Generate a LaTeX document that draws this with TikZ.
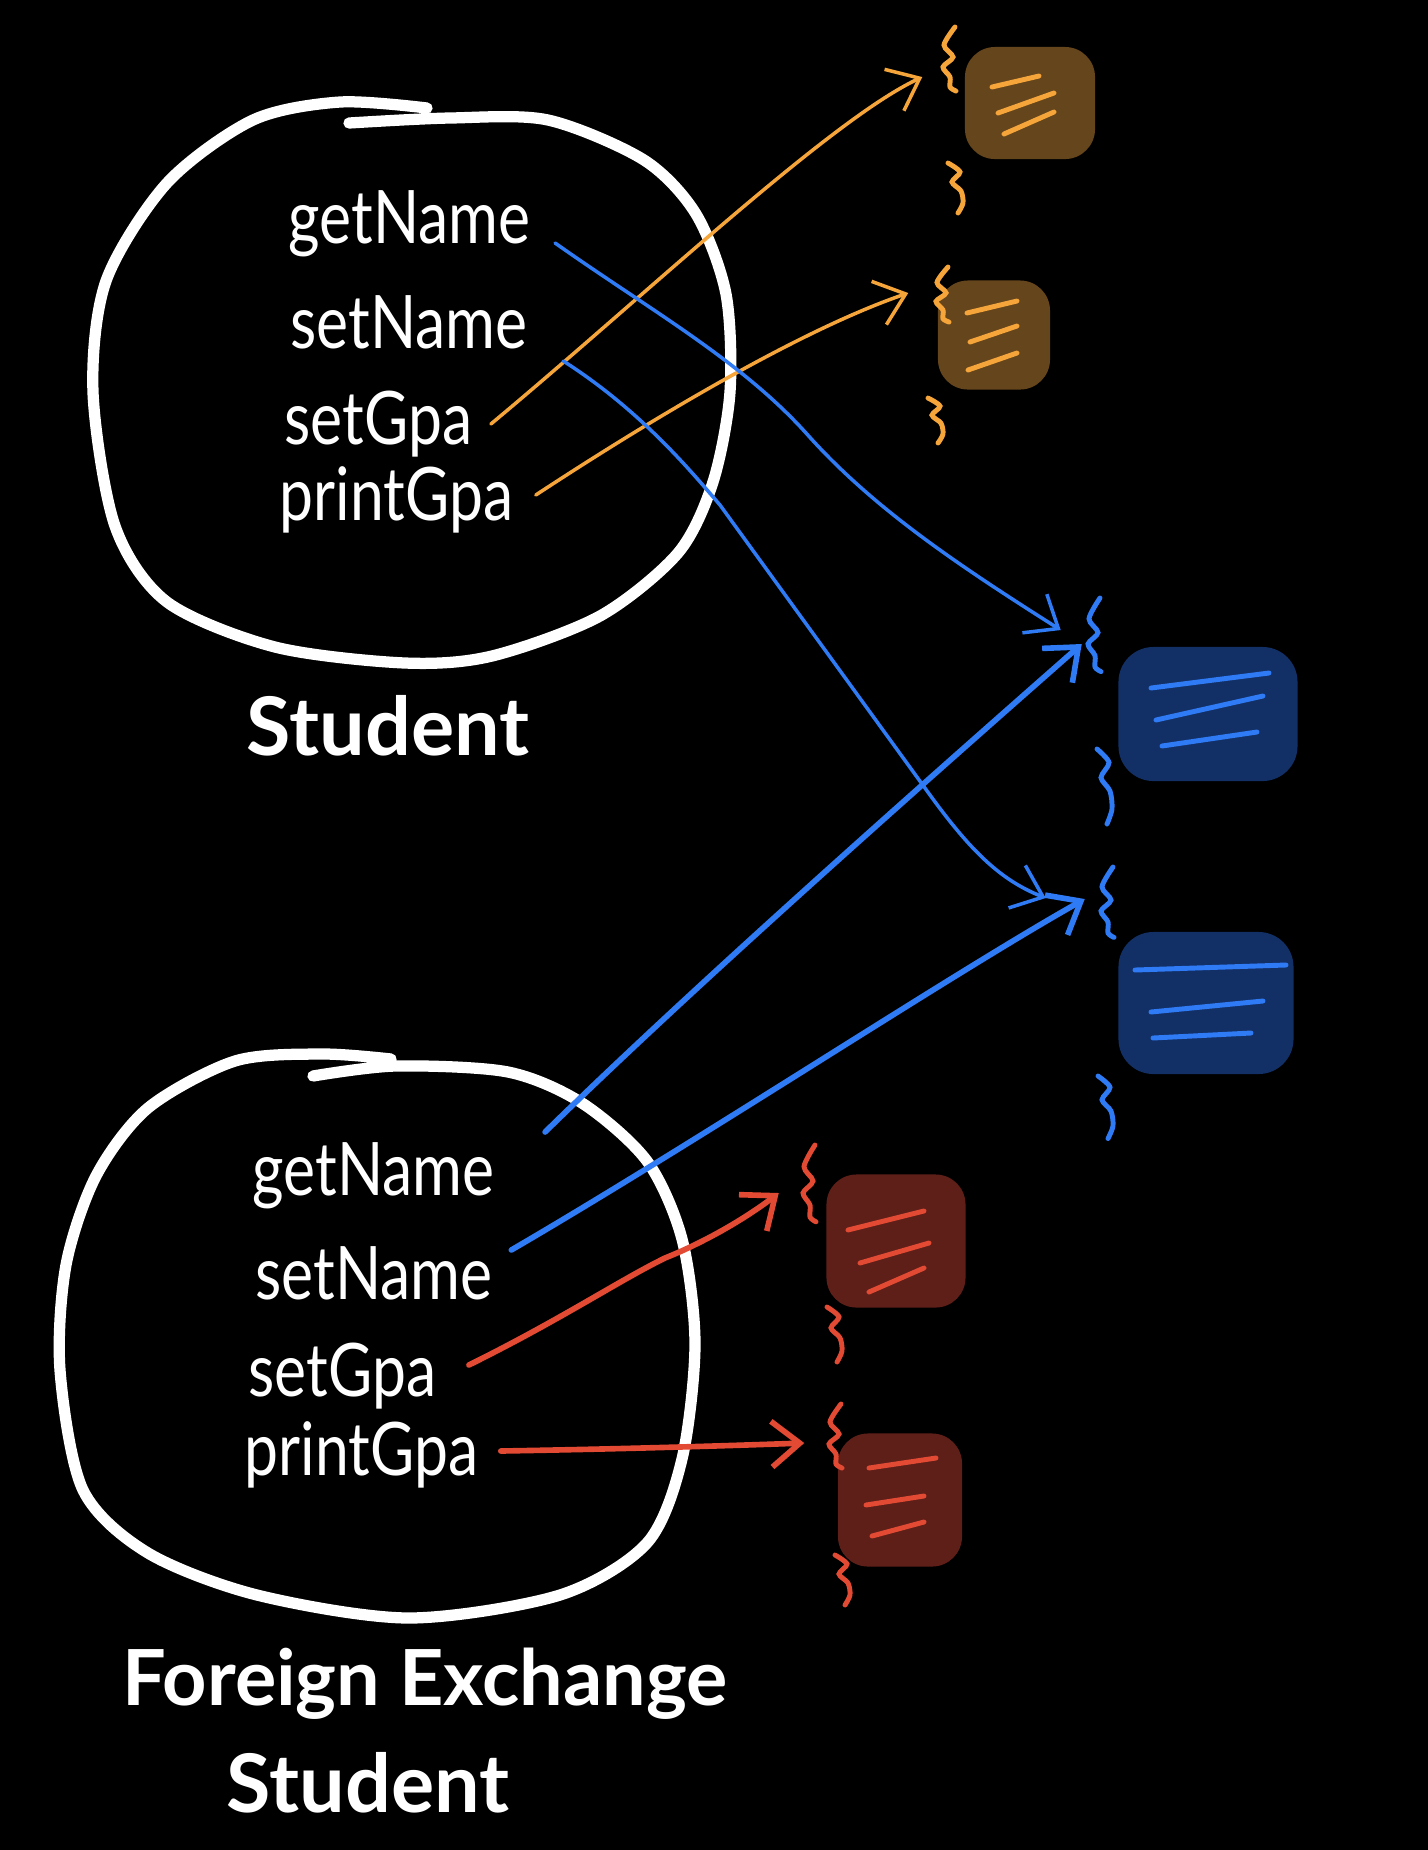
\documentclass[tikz,border=0pt]{standalone}
\usepackage{fontspec}
\setmainfont{Lato}
\newfontfamily\maofont[FakeStretch=0.82]{Lato}
\usepackage{tikz}
\usetikzlibrary{arrows.meta,calc}

\definecolor{laranja}{HTML}{F5A53A}
\definecolor{marrom}{HTML}{65451B}
\definecolor{azul}{HTML}{2F7BF6}
\definecolor{marinho}{HTML}{123066}
\definecolor{vermelho}{HTML}{E34A33}
\definecolor{vinho}{HTML}{5E1F18}

\tikzset{
  chavetopo/.pic={\draw plot[smooth] coordinates {(5,0) (-6,18) (3,30) (-7,40) (0,50) (0,60) (6,64)};},
  chavebaixo/.pic={\draw plot[smooth] coordinates {(0,0) (12,9) (4,19) (13,28) (15,40) (10,50)};}
}

\begin{document}
\begin{tikzpicture}[x=0.01cm, y=-0.01cm, > = {Straight Barb[length=8pt,width=13pt]}, line cap=round]
        \tikzstyle{metodo}=[anchor=base west, inner sep=0pt, text=white, font=\maofont\fontsize{21}{25}\selectfont]
        \tikzstyle{classe}=[inner sep=0pt, text=white, font=\bfseries\fontsize{23}{27}\selectfont]
        \tikzstyle{bolha}=[white, line width=3.2pt]
        \tikzstyle{objlar}=[fill=marrom, rounded corners=0.3cm, inner sep=0pt]
        \tikzstyle{objazul}=[fill=marinho, rounded corners=0.35cm, inner sep=0pt]
        \tikzstyle{objverm}=[fill=vinho, rounded corners=0.3cm, inner sep=0pt]
        \tikzstyle{chave}=[line width=1.4pt]
        \tikzstyle{setalar}=[->, laranja, line width=1pt]
        \tikzstyle{setaazul}=[->, azul, line width=1pt]
        \tikzstyle{setaazulg}=[->, azul, line width=1.6pt]
        \tikzstyle{setaverm}=[->, vermelho, line width=1.6pt]

            \useasboundingbox (0,0) rectangle (1428,1850);
            \fill[black] (0,0) rectangle (1428,1850);

            % Classes
            \draw[bolha] plot[smooth] coordinates {(349,123) (450,118) (548,120) (644,160) (696,214) (726,294) (730,392) (713,482) (678,553) (600,616) (492,656) (405,663) (275,647) (167,602) (115,526) (93,392) (106,281) (167,183) (253,120) (340,102) (427,108)};
            \draw[bolha] plot[smooth] coordinates {(313,1076) (396,1066) (508,1072) (582,1103) (647,1161) (682,1239) (695,1344) (682,1459) (647,1543) (560,1595) (409,1618) (257,1595) (148,1553) (83,1490) (60,1370) (66,1265) (96,1176) (148,1108) (235,1061) (322,1054) (391,1059)};

            \node[classe] (st) at (388,726) {Student};
            \node[classe, anchor=base, font=\bfseries\fontsize{22}{26}\selectfont] (fe) at (425,1705) {Foreign Exchange};
            \node[classe, anchor=base] (fes) at (368,1812) {Student};

            % Metodos
            \node[metodo] (sgn) at (288,243) {getName};
            \node[metodo] (ssn) at (290,348) {setName};
            \node[metodo] (ssg) at (284,444) {setGpa};
            \node[metodo] (spg) at (279,520) {printGpa};

            \node[metodo] (fgn) at (252,1195) {getName};
            \node[metodo] (fsn) at (255,1299) {setName};
            \node[metodo] (fsg) at (248,1396) {setGpa};
            \node[metodo] (fpg) at (244,1475) {printGpa};

            % Objetos
            \node[objlar, minimum width=1.30cm, minimum height=1.12cm] (ob1) at (1030,103) {};
            \node[objlar, minimum width=1.12cm, minimum height=1.09cm] (ob2) at (994,335) {};
            \node[objazul, minimum width=1.79cm, minimum height=1.34cm] (bb1) at (1208,714) {};
            \node[objazul, minimum width=1.75cm, minimum height=1.42cm] (bb2) at (1206,1003) {};
            \node[objverm, minimum width=1.39cm, minimum height=1.33cm] (rb1) at (896,1241) {};
            \node[objverm, minimum width=1.24cm, minimum height=1.33cm] (rb2) at (900,1500) {};

            \draw[chave, laranja] ($(ob1)+(-38,-16)$) -- ($(ob1)+(9,-27)$);
            \draw[chave, laranja] ($(ob1)+(-32,10)$) -- ($(ob1)+(24,-10)$);
            \draw[chave, laranja] ($(ob1)+(-26,31)$) -- ($(ob1)+(24,9)$);
            \draw[chave, laranja] ($(ob2)+(-27,-22)$) -- ($(ob2)+(23,-34)$);
            \draw[chave, laranja] ($(ob2)+(-24,7)$) -- ($(ob2)+(23,-9)$);
            \draw[chave, laranja] ($(ob2)+(-26,35)$) -- ($(ob2)+(23,18)$);
            \draw[chave, azul] ($(bb1)+(-57,-26)$) -- ($(bb1)+(61,-41)$);
            \draw[chave, azul] ($(bb1)+(-52,6)$) -- ($(bb1)+(55,-18)$);
            \draw[chave, azul] ($(bb1)+(-46,32)$) -- ($(bb1)+(49,18)$);
            \draw[chave, azul] ($(bb2)+(-71,-33)$) -- ($(bb2)+(80,-38)$);
            \draw[chave, azul] ($(bb2)+(-55,9)$) -- ($(bb2)+(57,-2)$);
            \draw[chave, azul] ($(bb2)+(-53,35)$) -- ($(bb2)+(45,30)$);
            \draw[chave, vermelho] ($(rb1)+(-48,-11)$) -- ($(rb1)+(28,-30)$);
            \draw[chave, vermelho] ($(rb1)+(-36,22)$) -- ($(rb1)+(33,2)$);
            \draw[chave, vermelho] ($(rb1)+(-27,51)$) -- ($(rb1)+(28,27)$);
            \draw[chave, vermelho] ($(rb2)+(-31,-32)$) -- ($(rb2)+(36,-42)$);
            \draw[chave, vermelho] ($(rb2)+(-34,5)$) -- ($(rb2)+(24,-4)$);
            \draw[chave, vermelho] ($(rb2)+(-28,36)$) -- ($(rb2)+(24,22)$);

            % Chaves
            \pic[chave, color=laranja] at (950,27) {chavetopo};
            \pic[chave, color=laranja] at (948,163) {chavebaixo};
            \pic[chave, color=laranja, yscale=0.86] at (943,267) {chavetopo};
            \pic[chave, color=laranja, yscale=0.9] at (928,398) {chavebaixo};
            \pic[chave, color=azul, yscale=1.15] at (1095,598) {chavetopo};
            \pic[chave, color=azul, yscale=1.5] at (1097,749) {chavebaixo};
            \pic[chave, color=azul, yscale=1.1] at (1108,867) {chavetopo};
            \pic[chave, color=azul, yscale=1.25] at (1098,1076) {chavebaixo};
            \pic[chave, color=vermelho, yscale=1.2] at (810,1145) {chavetopo};
            \pic[chave, color=vermelho, yscale=1.1] at (827,1307) {chavebaixo};
            \pic[chave, color=vermelho] at (836,1404) {chavetopo};
            \pic[chave, color=vermelho] at (835,1555) {chavebaixo};

            % Setas
            \draw[setalar] ($(ssg.base east)+(18,-20)$) .. controls (640,300) and (830,120) .. ($(ob1.west)+(-42,-26)$);
            \draw[setalar] ($(spg.base east)+(22,-25)$) .. controls (650,420) and (800,330) .. ($(ob2.west)+(-29,-42)$);
            \draw[setaazul] ($(sgn.base east)+(24,0)$) .. controls (650,310) and (740,360) .. (806,433) .. controls (870,505) and (950,560) .. ($(bb1.west)+(-57,-84)$);
            \draw[setaazul] ($(ssn.base east)+(35,13)$) .. controls (640,410) and (690,470) .. (720,505) -- (930,795) .. controls (970,850) and (1000,880) .. ($(bb2.west)+(-72,-105)$);
            \draw[setaazulg] ($(fgn.base east)+(50,-63)$) .. controls (700,980) and (950,760) .. ($(bb1.west)+(-36,-70)$);
            \draw[setaazulg] ($(fsn.base east)+(18,-49)$) .. controls (700,1140) and (950,975) .. ($(bb2.west)+(-33,-104)$);
            \draw[setaverm] ($(fsg.base east)+(32,-31)$) .. controls (560,1320) and (620,1280) .. (665,1258) .. controls (710,1240) and (750,1215) .. ($(rb1.west)+(-47,-48)$);
            \draw[setaverm] ($(fpg.base east)+(22,-24)$) .. controls (620,1449) and (720,1446) .. ($(rb2.west)+(-33,-57)$);
\end{tikzpicture}
\end{document}
